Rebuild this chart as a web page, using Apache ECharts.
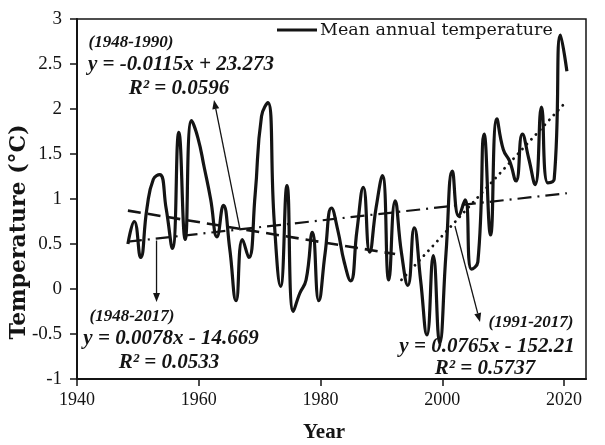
<!DOCTYPE html>
<html>
<head>
<meta charset="utf-8">
<script src="https://cdn.jsdelivr.net/npm/echarts@6/dist/echarts.min.js"></script>
<style>
  html, body { margin: 0; padding: 0; background: #fff; }
  #chart { width: 605px; height: 445px; }
</style>
</head>
<body>
<div id="chart"></div>
<script>
// Mean annual temperature anomaly by year
const years = [
  1948, 1949, 1950, 1951, 1952, 1953, 1954, 1955, 1956, 1957,
  1958, 1959, 1960, 1961, 1962, 1963, 1964, 1965, 1966, 1967,
  1968, 1969, 1970, 1971, 1972, 1973, 1974, 1975, 1976, 1977,
  1978, 1979, 1980, 1981, 1982, 1983, 1984, 1985, 1986, 1987,
  1988, 1989, 1990, 1991, 1992, 1993, 1994, 1995, 1996, 1997,
  1998, 1999, 2000, 2001, 2002, 2003, 2004, 2005, 2006, 2007,
  2008, 2009, 2010, 2011, 2012, 2013, 2014, 2015, 2016, 2017
];
const meanTemp = [
  0.50, 0.75, 0.35, 0.90, 1.22, 1.27, 0.90, 0.45, 1.74, 0.55,
  1.87, 1.68, 1.35, 1.00, 0.58, 0.93, 0.45, -0.13, 0.55, 0.35,
  1.05, 1.92, 2.07, 0.75, 0.03, 1.15, -0.25, -0.05, 0.10, 0.63,
  -0.13, 0.40, 0.90, 0.65, 0.30, 0.09, 0.65, 1.13, 0.41, 0.90,
  1.26, 0.10, 0.98, 0.40, 0.04, 0.68, 0.10, -0.51, 0.37, -0.60,
  0.40, 1.31, 0.81, 0.99, 0.22, 0.30, 1.72, 0.60, 1.89, 1.55,
  1.42, 1.20, 1.72, 1.45, 1.16, 2.02, 1.18, 1.22, 2.82, 2.42
];

// Year labels along the bottom axis
const yearTicks = [1940, 1960, 1980, 2000, 2020];

// Linear trends: period, slope, intercept, R²
const trendPeriods = ['(1948-1990)', '(1948-2017)', '(1991-2017)'];
const trendStart = [1948, 1948, 1991];
const trendEnd = [1990, 2017, 2017];
const trendSlope = [-0.0115, 0.0078, 0.0765];
const trendIntercept = [23.273, -14.669, -152.21];
const trendR2 = ['0.0596', '0.0533', '0.5737'];

const SERIF = '"Liberation Serif", "DejaVu Serif", serif';
const WIDE_SERIF = '"DejaVu Serif", "Liberation Serif", serif';
const INK = '#141414';

const trendAt = (k, x) => trendSlope[k] * x + trendIntercept[k];
const trendLine = k => [
  [trendStart[k], trendAt(k, trendStart[k])],
  [trendEnd[k], trendAt(k, trendEnd[k])]
];
const equation = k => 'y = ' + trendSlope[k] + 'x ' +
  (trendIntercept[k] < 0 ? '- ' : '+ ') + Math.abs(trendIntercept[k]);

const trendStyles = [
  { width: 2.6, type: [13, 7], cap: 'butt' },          // 1948-1990 dashed
  { width: 2.2, type: [14, 6, 2, 6], cap: 'butt' },    // 1948-2017 dash-dot
  { width: 2.8, type: [0.1, 6.5], cap: 'round' }       // 1991-2017 dotted
];

const chart = echarts.init(document.getElementById('chart'), null, { renderer: 'canvas' });

const option = {
  animation: false,
  backgroundColor: '#fff',
  grid: {
    left: 77, top: 19, right: 19, bottom: 66,
    show: true, borderColor: INK, borderWidth: 1.5, backgroundColor: 'transparent'
  },
  legend: {
    data: [{ name: 'Mean annual temperature', icon: 'rect' }],
    left: 277, top: 21,
    itemWidth: 40, itemHeight: 3, itemGap: 0,
    padding: 0,
    textStyle: { fontFamily: WIDE_SERIF, fontSize: 17.5, color: INK, padding: [0, 0, 0, -2] }
  },
  xAxis: [
    {
      // data scale
      type: 'value', min: 1940, max: 2020, show: false
    },
    {
      // labelled year axis
      type: 'value', min: 1940, max: 2023.6, position: 'bottom',
      splitLine: { show: false },
      axisLine: { show: true, onZero: false, lineStyle: { color: INK, width: 2 } },
      axisTick: { show: true, inside: false, length: 7, customValues: yearTicks,
                  lineStyle: { color: INK, width: 1.5 } },
      axisLabel: { customValues: yearTicks, margin: 12, fontFamily: SERIF, fontSize: 18, color: INK,
                   formatter: v => String(v) }
    }
  ],
  yAxis: {
    type: 'value', min: -1, max: 3, interval: 0.5,
    splitLine: { show: false },
    axisLine: { show: true, onZero: false, lineStyle: { color: INK, width: 2 } },
    axisTick: { show: true, inside: false, length: 7, lineStyle: { color: INK, width: 1.5 } },
    axisLabel: { margin: 15, fontFamily: SERIF, fontSize: 19, color: INK }
  },
  series: [
    {
      name: 'Mean annual temperature',
      type: 'line',
      xAxisIndex: 0,
      data: years.map((y, i) => [y, meanTemp[i]]),
      smooth: 0.5,
      symbol: 'none',
      lineStyle: { color: INK, width: 3.2 },
      itemStyle: { color: INK },
      z: 3
    }
  ].concat(trendPeriods.map((p, k) => ({
    name: p,
    type: 'line',
    xAxisIndex: 0,
    data: trendLine(k),
    symbol: 'none',
    silent: true,
    lineStyle: Object.assign({ color: INK }, trendStyles[k]),
    z: 4
  })))
};

chart.setOption(option);

// Equation labels and arrows
const toPx = (x, y) => chart.convertToPixel({ xAxisIndex: 0, yAxisIndex: 0 }, [x, y]);

function arrow(from, to) {
  const ang = Math.atan2(to[1] - from[1], to[0] - from[0]);
  const len = 9, half = 3.5;
  const base = [to[0] - len * Math.cos(ang), to[1] - len * Math.sin(ang)];
  const nx = -Math.sin(ang), ny = Math.cos(ang);
  return [
    { type: 'line', shape: { x1: from[0], y1: from[1], x2: base[0], y2: base[1] },
      style: { stroke: INK, lineWidth: 1.3 }, z: 10 },
    { type: 'polygon', shape: { points: [
        to, [base[0] + nx * half, base[1] + ny * half], [base[0] - nx * half, base[1] - ny * half]
      ] }, style: { fill: INK }, z: 10 }
  ];
}

function label(text, x, y, size) {
  return {
    type: 'text', x: x, y: y, z: 12,
    style: {
      text: text, fill: INK, fontFamily: SERIF, fontSize: size,
      fontWeight: 'bold', fontStyle: 'italic', align: 'center', verticalAlign: 'middle'
    }
  };
}

const labelPos = [
  { px: 131, cx: 181, y0: 43, y1: 65, y2: 89 },
  { px: 132, cx: 171, y0: 317, y1: 339, y2: 363 },
  { px: 531, cx: 487, y0: 323, y1: 347, y2: 369 }
];

let graphics = [];
trendPeriods.forEach((p, k) => {
  const L = labelPos[k];
  graphics.push(label(p, L.px, L.y0, 17));
  graphics.push(label(equation(k), L.cx, L.y1, 21));
  graphics.push(label('R\u00B2 = ' + trendR2[k], L.cx - 2, L.y2, 21));
});

// arrows from each trend line to its label
const t0 = toPx(1965.6, trendAt(0, 1965.6));
graphics = graphics.concat(arrow(t0, [214, 100]));
const t1 = toPx(1952.5, trendAt(1, 1952.5));
graphics = graphics.concat(arrow([t1[0], t1[1] + 2], [t1[0], 302]));
const t2 = toPx(1999.4, trendAt(2, 1999.4));
graphics = graphics.concat(arrow([t2[0], t2[1] + 4], [480, 322]));

// axis titles
graphics.push({
  type: 'text', x: 19, y: 232, rotation: Math.PI / 2, z: 12,
  style: { text: 'Temperature (\u00B0C)', fill: INK, fontFamily: WIDE_SERIF, fontSize: 22,
           fontWeight: 'bold', align: 'center', verticalAlign: 'middle' }
});
graphics.push({
  type: 'text', x: 324, y: 433, z: 12,
  style: { text: 'Year', fill: INK, fontFamily: SERIF, fontSize: 21,
           fontWeight: 'bold', align: 'center', verticalAlign: 'middle' }
});

chart.setOption({ graphic: graphics });
</script>
</body>
</html>
